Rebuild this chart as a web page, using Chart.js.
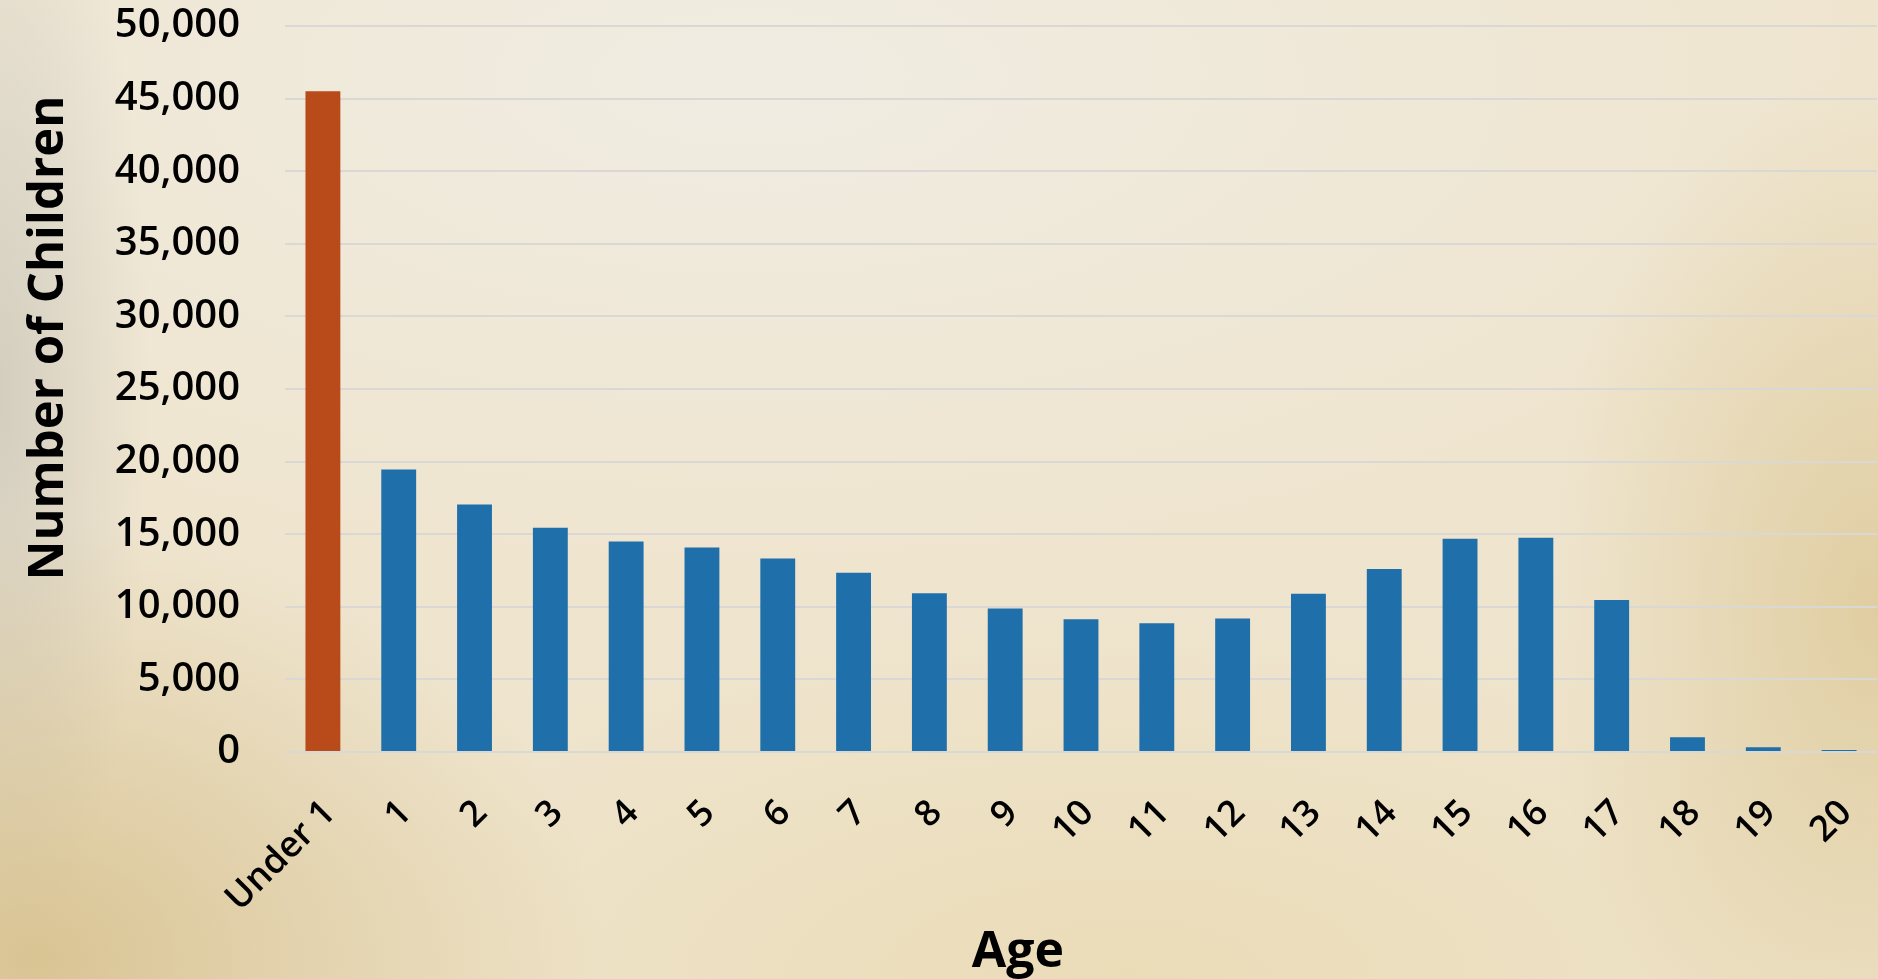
<!DOCTYPE html>
<html lang="en">
<head>
    <meta charset="UTF-8">
    <title>Number of Children by Age</title>
    <style>
        html, body { margin: 0; padding: 0; overflow: hidden; }
        body {
            width: 1878px;
            height: 979px;
            background:
                radial-gradient(ellipse 30% 45% at 2% 98%, rgba(205, 178, 115, 0.65), rgba(205, 178, 115, 0) 100%),
                radial-gradient(ellipse 18% 55% at 100% 62%, rgba(214, 190, 130, 0.6), rgba(214, 190, 130, 0) 100%),
                radial-gradient(ellipse 8% 60% at 0% 40%, rgba(200, 196, 184, 0.7), rgba(200, 196, 184, 0) 100%),
                radial-gradient(ellipse 60% 50% at 40% 8%, rgba(240, 237, 228, 0.9), rgba(240, 237, 228, 0) 100%),
                radial-gradient(ellipse 50% 40% at 60% 100%, rgba(232, 214, 168, 0.6), rgba(232, 214, 168, 0) 100%),
                #efe5cf;
        }
        .wrap { position: relative; width: 1878px; height: 979px; }
    </style>
</head>
<body>
<div class="wrap">
    <canvas id="grafico"></canvas>
</div>

<script src="https://cdn.jsdelivr.net/npm/chart.js"></script>
<script>
// datos
const edades = ['Under 1', '1', '2', '3', '4', '5', '6', '7', '8', '9', '10',
                '11', '12', '13', '14', '15', '16', '17', '18', '19', '20'];
const ninos = [45500, 19450, 17050, 15450, 14500, 14080, 13330, 12350, 10940, 9890, 9140,
               8860, 9200, 10900, 12600, 14680, 14760, 10470, 1010, 330, 130];
const ticksY = [0, 5000, 10000, 15000, 20000, 25000, 30000, 35000, 40000, 45000, 50000];

const NARANJA = '#b94a19';
const AZUL = '#1f6fab';

// titulos de ejes dibujados a mano (no quedan centrados en el area del grafico)
const titulosEjes = {
    id: 'titulosEjes',
    afterDraw(chart) {
        const ctx = chart.ctx;
        ctx.save();
        ctx.fillStyle = '#000';
        ctx.font = 'bold 50px "Open Sans"';
        ctx.textAlign = 'center';
        ctx.textBaseline = 'alphabetic';
        ctx.fillText('Age', 1018, 967);

        ctx.font = 'bold 49px "Open Sans"';
        ctx.translate(63, 338);
        ctx.rotate(-Math.PI / 2);
        ctx.fillText('Number of Children', 0, 0);
        ctx.restore();
    }
};

const ctx = document.getElementById('grafico').getContext('2d');
const miGrafico = new Chart(ctx, {
    type: 'bar',
    data: {
        labels: edades,
        datasets: [{
            label: 'Number of Children',
            data: ninos,
            backgroundColor: edades.map((e, i) => i === 0 ? NARANJA : AZUL),
            borderWidth: 0,
            barPercentage: 0.46,
            categoryPercentage: 1
        }]
    },
    options: {
        responsive: true,
        maintainAspectRatio: false,
        animation: false,
        layout: { padding: { top: 26, right: 1, left: 0, bottom: 0 } },
        plugins: {
            legend: { display: false },
            tooltip: { enabled: false }
        },
        scales: {
            x: {
                grid: { display: false, drawTicks: false },
                border: { display: false },
                ticks: {
                    autoSkip: false,
                    minRotation: 45,
                    maxRotation: 45,
                    padding: 40,
                    labelOffset: 7,
                    color: '#000',
                    font: { family: '"Open Sans"', size: 36, weight: 600 }
                },
                afterFit(scale) {
                    scale.height = 227;
                    scale.paddingLeft = 0;
                    scale.paddingRight = 0;
                }
            },
            y: {
                min: 0,
                max: 50000,
                afterBuildTicks(scale) { scale.ticks = ticksY.map(v => ({ value: v })); },
                grid: { color: '#d9d8d4', lineWidth: 2, drawTicks: false },
                border: { display: false },
                ticks: {
                    padding: 45,
                    color: '#000',
                    font: { family: '"Open Sans"', size: 40, weight: 600 },
                    callback: v => v.toLocaleString('en-US')
                },
                afterFit(scale) {
                    scale.width = 285;
                    scale.paddingTop = 0;
                    scale.paddingBottom = 0;
                }
            }
        }
    },
    plugins: [titulosEjes]
});
</script>
</body>
</html>
